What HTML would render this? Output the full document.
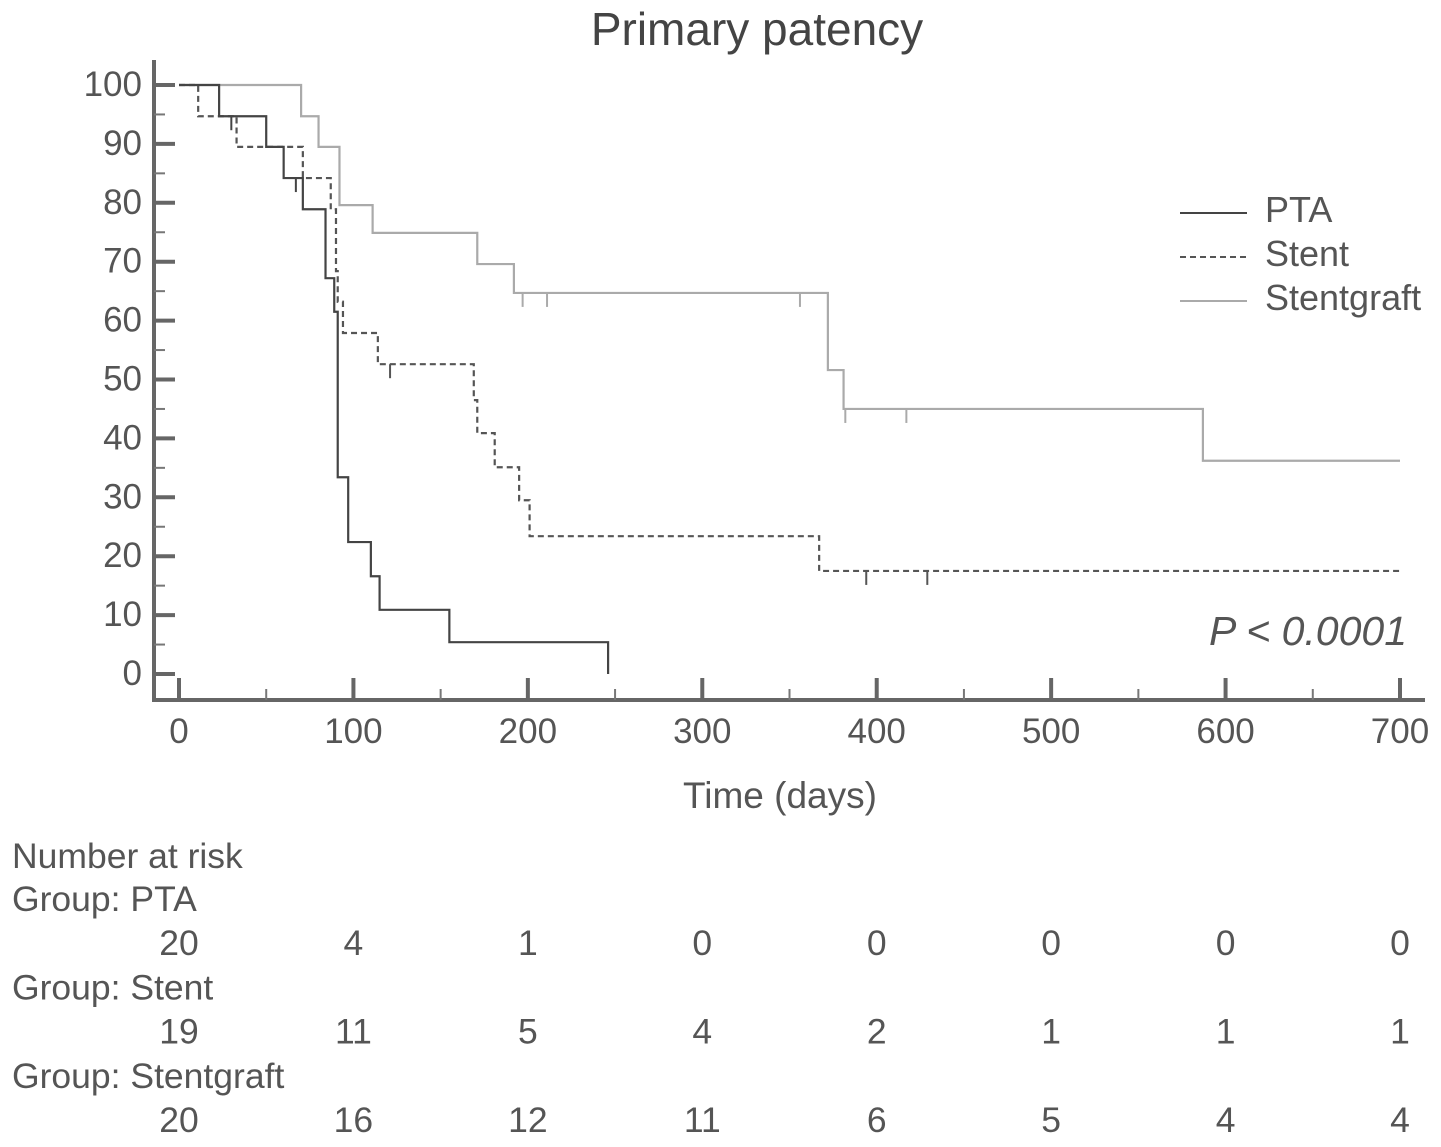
<!DOCTYPE html>
<html><head><meta charset="utf-8"><style>
body{margin:0;background:#fff;}
svg{display:block;font-family:"Liberation Sans",sans-serif;}
</style></head><body>
<svg id="chart" width="1441" height="1147" viewBox="0 0 1441 1147">
<text x="757" y="45" font-size="46" fill="#444" text-anchor="middle">Primary patency</text>
<g id="axes"></g>
<g id="curves"></g>
<g>
<line x1="1180" y1="213" x2="1247" y2="213" stroke="#444" stroke-width="2"/>
<text x="1265" y="222" font-size="36" fill="#555">PTA</text>
<line x1="1180" y1="257" x2="1247" y2="257" stroke="#555" stroke-width="2" stroke-dasharray="6,4"/>
<text x="1265" y="266" font-size="36" fill="#555">Stent</text>
<line x1="1180" y1="301" x2="1247" y2="301" stroke="#aaa" stroke-width="2"/>
<text x="1265" y="310" font-size="36" fill="#555">Stentgraft</text>
</g>
<text x="1407" y="645" font-size="41" fill="#555" font-style="italic" text-anchor="end">P &lt; 0.0001</text>
<text x="780" y="808" font-size="37" fill="#555" text-anchor="middle">Time (days)</text>
<g id="risk" font-size="35.5" fill="#555"></g>
</svg>
<script>
const xTicks=[0,100,200,300,400,500,600,700];
const yTicks=[0,10,20,30,40,50,60,70,80,90,100];
const ptaTimes=[0,23,50,60,71,84,89,91,97,110,115,155,246];
const ptaValues=[100,94.7,89.5,84.2,78.9,67.2,61.5,33.4,22.4,16.6,10.9,5.4,0];
const ptaCensored=[30,67];
const stentTimes=[0,11,33,71,87,90,91,94,114,169,171,181,195,201,367,700];
const stentValues=[100,94.7,89.5,84.2,78.9,68.4,63.2,57.9,52.6,46.5,40.9,35.1,29.5,23.4,17.5,17.5];
const stentCensored=[121,394,429];
const sgTimes=[0,70,80,92,111,171,192,372,381,587,700];
const sgValues=[100,94.7,89.5,79.6,74.9,69.6,64.7,51.6,45.0,36.2,36.2];
const sgCensored=[197,211,356,382,417];
const riskGroups=["Group: PTA","Group: Stent","Group: Stentgraft"];
const riskPTA=[20,4,1,0,0,0,0,0];
const riskStent=[19,11,5,4,2,1,1,1];
const riskSG=[20,16,12,11,6,5,4,4];

const NS="http://www.w3.org/2000/svg";
const X=d=>179+d*(1221/700);
const Y=v=>674-v*5.89;
function mk(tag,attrs,parent){const e=document.createElementNS(NS,tag);for(const k in attrs)e.setAttribute(k,attrs[k]);parent.appendChild(e);return e;}
const axes=document.getElementById('axes');
const yAxis=mk('line',{x1:154,y1:60,x2:154,y2:702,stroke:'#666','stroke-width':4},axes);


const xAxis=mk('line',{x1:152,y1:700,x2:1425,y2:700,stroke:'#666','stroke-width':4},axes);


yTicks.forEach(v=>{
  const t=mk('line',{x1:154,y1:Y(v),x2:175,y2:Y(v),stroke:'#666','stroke-width':4},axes);
  
  
  if(v<100){const m=mk('line',{x1:154,y1:Y(v+5),x2:165,y2:Y(v+5),stroke:'#777','stroke-width':2},axes);
  
  }
  const l=mk('text',{x:142,y:Y(v)+11,'font-size':35,fill:'#555','text-anchor':'end'},axes);l.textContent=v;
  
  
});
xTicks.forEach(d=>{
  const t=mk('line',{x1:X(d),y1:678,x2:X(d),y2:700,stroke:'#666','stroke-width':4},axes);
  
  
  if(d<700){const m=mk('line',{x1:X(d+50),y1:689,x2:X(d+50),y2:700,stroke:'#777','stroke-width':2},axes);
  
  }
  const l=mk('text',{x:X(d),y:743,'font-size':35,fill:'#555','text-anchor':'middle'},axes);l.textContent=d;
  
  
});
const curves=document.getElementById('curves');
function stepValue(ts,vs,t){let v=vs[0];for(let i=0;i<ts.length;i++){if(ts[i]<=t)v=vs[i];}return v;}
function drawCurve(ts,vs,cens,color,dash,name){
  let d=`M${X(ts[0])},${Y(vs[0])}`;
  for(let i=1;i<ts.length;i++){d+=` H${X(ts[i])} V${Y(vs[i])}`;}
  const p=mk('path',{d:d,fill:'none',stroke:color,'stroke-width':2.2},curves);
  if(dash)p.setAttribute('stroke-dasharray',dash);
  
  
  cens.forEach(c=>{const y=Y(stepValue(ts,vs,c));
    const m=mk('line',{x1:X(c),y1:y,x2:X(c),y2:y+14,stroke:color,'stroke-width':2},curves);
    
    });
}
drawCurve(sgTimes,sgValues,sgCensored,'#aaa',null,'stentgraft');
drawCurve(stentTimes,stentValues,stentCensored,'#555','6,4','stent');
drawCurve(ptaTimes,ptaValues,ptaCensored,'#444',null,'pta');
const risk=document.getElementById('risk');
const h=mk('text',{x:12,y:868},risk);h.textContent='Number at risk';


[riskPTA,riskStent,riskSG].forEach((arr,g)=>{
  const gy=911+g*88.5;
  const gl=mk('text',{x:12,y:gy},risk);gl.textContent=riskGroups[g];
  
  
  arr.forEach((n,i)=>{const t=mk('text',{x:X(xTicks[i]),y:gy+44,'text-anchor':'middle'},risk);t.textContent=n;
    
    });
});
</script>
</body></html>
